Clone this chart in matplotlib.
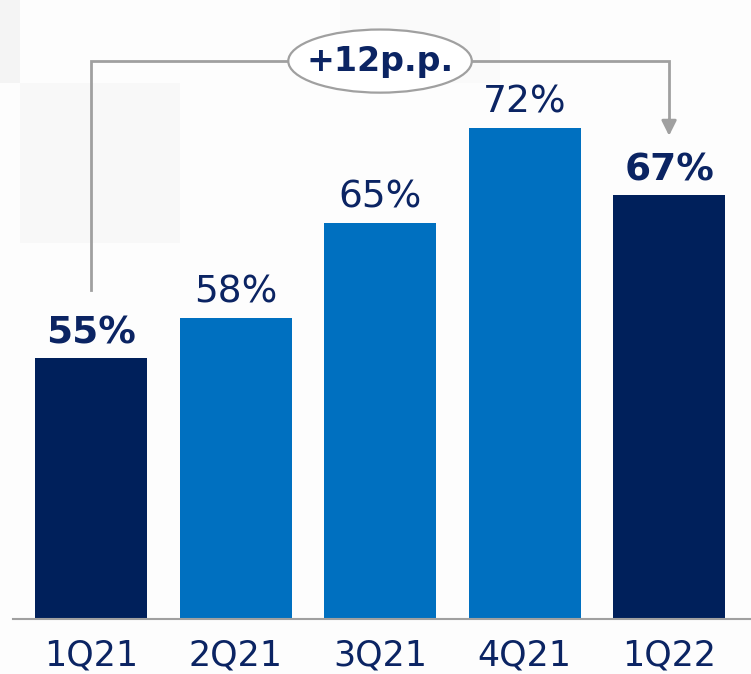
import matplotlib
matplotlib.use("Agg")
import matplotlib.pyplot as plt
from matplotlib.patches import Ellipse, Rectangle

quarters = ["1Q21", "2Q21", "3Q21", "4Q21", "1Q22"]
values = [55, 58, 65, 72, 67]
highlight = [True, False, False, False, True]
change_label = "+12p.p."

navy = "#00205B"
blue = "#0070C0"
text_navy = "#0B2463"
grey = "#A0A0A0"

plt.rcParams['font.family'] = ['DejaVu Sans']

fig = plt.figure(figsize=(7.51, 6.74), dpi=100)
fig.patch.set_facecolor("#FDFDFD")

# faint background blocks from the source slide
for (x0, y0, w, h, c) in [(0, 0, 20, 83, "#F4F4F4"), (20, 83, 160, 160, "#F8F8F8"),
                          (340, 0, 160, 83, "#FAFAFA")]:
    fig.add_artist(Rectangle((x0 / 751, 1 - (y0 + h) / 674), w / 751, h / 674,
                             transform=fig.transFigure, color=c, zorder=0, lw=0))

W, H = 751, 674
ax = fig.add_axes([13 / W, 1 - 619 / H, 738 / W, 619 / H])
ax.patch.set_alpha(0)

x = list(range(len(values)))
colors = [navy if hl else blue for hl in highlight]
ax.bar(x, values, width=0.775, color=colors, zorder=2)

ax.set_xlim(-0.54, 4.567)
ax.set_ylim(35.8, 81.4)

for xi, v, hl in zip(x, values, highlight):
    ax.annotate(f"{v}%", (xi, v), xytext=(0, 5), textcoords="offset points",
                ha="center", va="bottom", fontsize=27, color=text_navy,
                fontweight="bold" if hl else "normal")

ax.set_xticks(x)
ax.set_xticklabels(quarters, fontsize=25, color=text_navy)
ax.tick_params(axis="x", length=0, pad=14)
ax.set_yticks([])
for s in ["top", "left", "right"]:
    ax.spines[s].set_visible(False)
ax.spines["bottom"].set_color(grey)
ax.spines["bottom"].set_linewidth(1.5)

# bracket from first to last quarter
start = values[0] + 5
level = max(values) + 4.9
tip = values[-1] + 4.4
ax.plot([x[0], x[0], x[-1], x[-1]], [start, level, level, tip + 1.0],
        color=grey, lw=2, zorder=3, solid_joinstyle="miter")
ax.annotate("", xy=(x[-1], tip), xytext=(x[-1], tip + 1.2),
            arrowprops=dict(arrowstyle="-|>,head_length=0.9,head_width=0.45",
                            color=grey, lw=2, shrinkA=0, shrinkB=0))
mid = (x[0] + x[-1]) / 2
ax.add_patch(Ellipse((mid, level), 1.27, 4.65, facecolor="white",
                     edgecolor=grey, lw=1.6, zorder=4, clip_on=False))
ax.text(mid, level, change_label, ha="center", va="center", fontsize=24,
        fontweight="bold", color=text_navy, zorder=5)

fig.savefig("out.png", dpi=100, facecolor=fig.get_facecolor())
